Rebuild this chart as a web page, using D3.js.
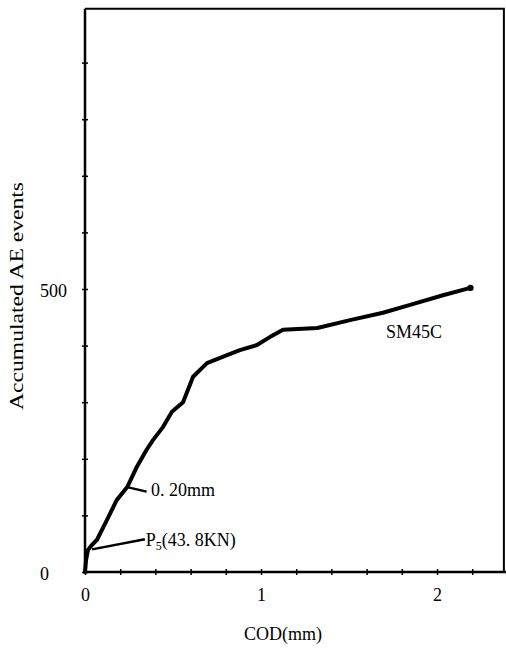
<!DOCTYPE html>
<html>
<head>
<meta charset="utf-8">
<script src="https://cdn.jsdelivr.net/npm/d3@7/dist/d3.min.js"></script>
<style>
  body { margin: 0; background: #fff; }
  svg { display: block; }
  text { font-family: "Liberation Serif", "Times New Roman", serif; fill: #000; }
</style>
</head>
<body>
<svg id="chart" width="506" height="648"></svg>
<script>
// COD (mm) vs accumulated AE events
var codData = [0, 0.006, 0.017, 0.04, 0.068, 0.125, 0.18, 0.24, 0.295, 0.35, 0.386, 0.443,
    0.494, 0.557, 0.585, 0.614, 0.693, 0.807, 0.88, 0.977, 1.05, 1.125, 1.32, 1.506,
    1.693, 1.847, 2.034, 2.19];
var aeData = [0, 21, 39, 48, 57, 92, 127, 150, 186, 216, 233, 256,
    283, 300, 322, 345, 369, 383, 392, 401, 415, 428, 431, 445,
    458, 472, 489, 502];

var xTicks = [0, 0.2, 0.4, 0.6, 0.8, 1, 1.2, 1.4, 1.6, 1.8, 2, 2.2];
var xLabels = [0, 1, 2];
var yTicks = [0, 100, 200, 300, 400, 500, 600, 700, 800, 900];
var yLabels = [0, 500];

var svg = d3.select("#chart");

var x = d3.scaleLinear().domain([0, 2.4]).range([85, 507.4]);
var y = d3.scaleLinear().domain([0, 1000]).range([572, 6]);

var xMax = 2.38, yMax = 995;
var fs = "18px";

// frame top + right
svg.append("path")
    .attr("d", "M" + x(0) + "," + y(yMax) + "H" + x(xMax) + "V" + y(0))
    .attr("fill", "none")
    .attr("stroke", "#000")
    .attr("stroke-width", 2);

// bottom axis
var xAxis = d3.axisBottom(x).tickValues(xTicks).tickSize(3).tickFormat("");
var gx = svg.append("g")
    .attr("transform", "translate(0," + y(0) + ")")
    .call(xAxis);
gx.select(".domain").attr("stroke-width", 2.5).attr("d", "M" + x(0) + ",0H506");
gx.selectAll(".tick line").attr("y1", -3).attr("y2", 3).attr("stroke-width", 1.5);

var gxl = svg.append("g")
    .attr("transform", "translate(0," + y(0) + ")")
    .call(d3.axisBottom(x).tickValues(xLabels).tickSize(0).tickPadding(16).tickFormat(d3.format("d")));
gxl.select(".domain").remove();
gxl.selectAll("text").style("font-size", fs).style("font-family", "'Liberation Serif', serif");

// left axis
var yAxis = d3.axisLeft(y).tickValues(yTicks).tickSize(3).tickFormat("");
var gy = svg.append("g")
    .attr("transform", "translate(" + x(0) + ",0)")
    .call(yAxis);
gy.select(".domain").attr("stroke-width", 2.5).attr("d", "M0," + y(0) + "V" + y(yMax));
gy.selectAll(".tick line").attr("x1", -3).attr("x2", 3).attr("stroke-width", 1.5);

var gyl = svg.append("g")
    .attr("transform", "translate(40,0)")
    .call(d3.axisLeft(y).tickValues(yLabels).tickSize(0).tickPadding(0).tickFormat(d3.format("d")));
gyl.select(".domain").remove();
gyl.selectAll("text").attr("text-anchor", "start").attr("dy", "0.4em")
    .style("font-size", fs).style("font-family", "'Liberation Serif', serif");

// curve
var pts = codData.map(function (d, i) { return [d, aeData[i]]; });
var line = d3.line()
    .x(function (d) { return x(d[0]); })
    .y(function (d) { return y(d[1]); });

svg.append("path")
    .datum(pts)
    .attr("d", line)
    .attr("fill", "none")
    .attr("stroke", "#000")
    .attr("stroke-width", 4)
    .attr("stroke-linejoin", "round")
    .attr("stroke-linecap", "round");

var last = pts[pts.length - 1];
svg.append("circle")
    .attr("cx", x(last[0]))
    .attr("cy", y(last[1]))
    .attr("r", 3.2)
    .attr("fill", "#000");

// annotations
svg.append("line")
    .attr("x1", x(0.04)).attr("y1", y(40))
    .attr("x2", x(0.34)).attr("y2", y(58))
    .attr("stroke", "#000").attr("stroke-width", 2.5);
var p5 = svg.append("text")
    .attr("x", x(0.345)).attr("y", y(46))
    .style("font-size", fs);
p5.append("tspan").text("P");
p5.append("tspan").attr("dy", 4).style("font-size", "12px").text("5");
p5.append("tspan").attr("dy", -4).text("(43. 8KN)");

svg.append("line")
    .attr("x1", x(0.24)).attr("y1", y(150))
    .attr("x2", x(0.35)).attr("y2", y(142))
    .attr("stroke", "#000").attr("stroke-width", 2.5);
svg.append("text")
    .attr("x", x(0.375)).attr("y", y(134))
    .style("font-size", fs)
    .text("0. 20mm");

svg.append("text")
    .attr("x", x(1.71)).attr("y", y(414))
    .style("font-size", fs)
    .text("SM45C");

// axis titles
svg.append("text")
    .attr("x", 283).attr("y", 640)
    .attr("text-anchor", "middle")
    .style("font-size", fs)
    .text("COD(mm)");

svg.append("text")
    .attr("transform", "translate(23,296) rotate(-90)")
    .attr("text-anchor", "middle")
    .attr("textLength", 228)
    .attr("lengthAdjust", "spacingAndGlyphs")
    .style("font-size", "19px")
    .text("Accumulated AE events");
</script>
</body>
</html>
